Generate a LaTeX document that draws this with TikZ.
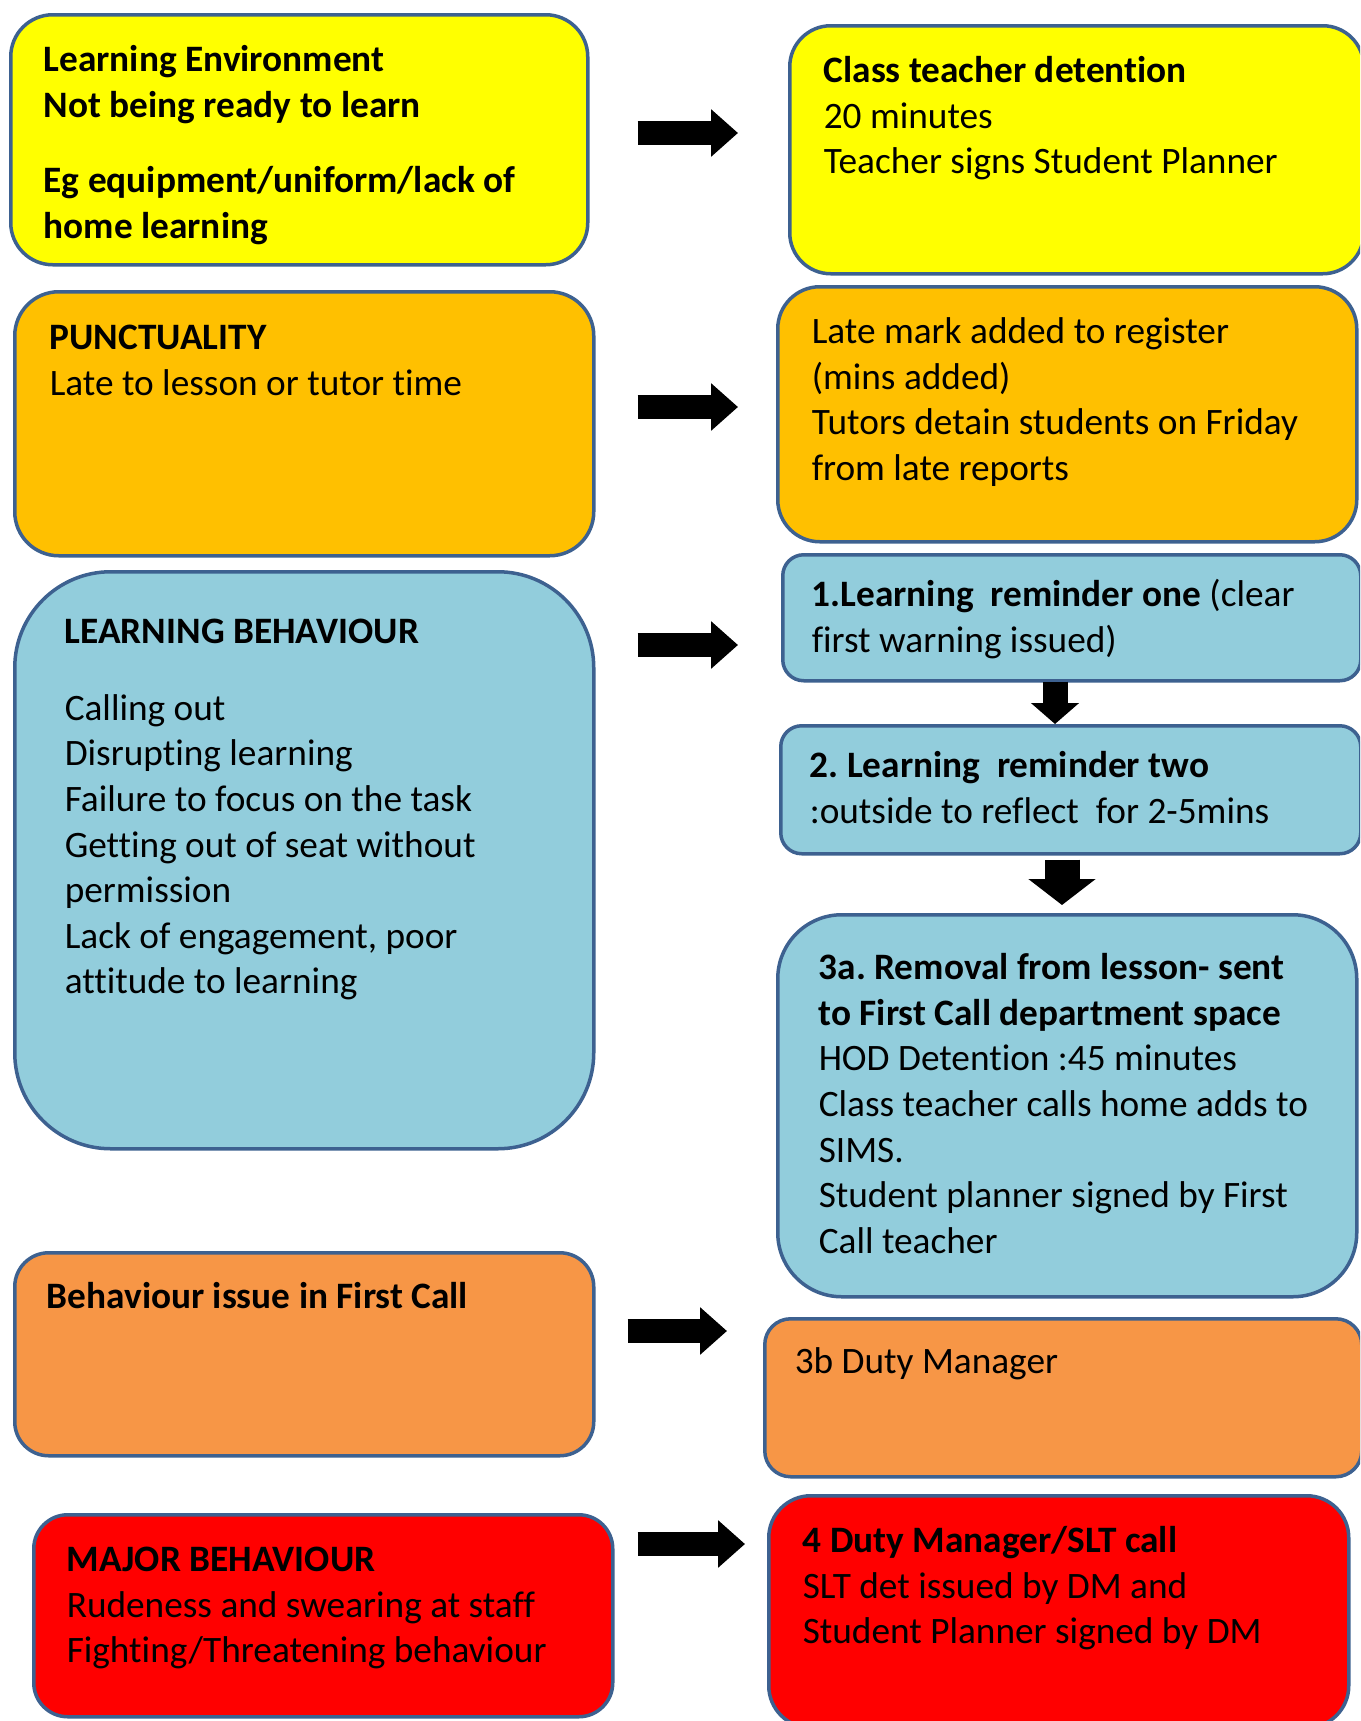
\documentclass[tikz,border=0pt]{standalone}
\usepackage{fontspec}
\setmainfont{Carlito}[Ligatures=NoCommon]
\usetikzlibrary{arrows.meta}
\definecolor{bordc}{HTML}{3D6190}
\definecolor{yel}{HTML}{FFFF00}
\definecolor{gold}{HTML}{FFC000}
\definecolor{lblue}{HTML}{92CDDC}
\definecolor{orng}{HTML}{F79646}
\definecolor{rd}{HTML}{FF0000}
\newcommand\bxt[3]{\parbox[c][#1pt][t]{#2pt}{\frenchspacing\raggedright\strut #3}}
\begin{document}
\begin{tikzpicture}[x=1pt,y=-1pt,
  rb/.style n args={5}{draw=bordc, line width=3.5pt, anchor=north west,
    minimum width=#1pt, minimum height=#2pt, rounded corners=#3pt,
    inner xsep=#4pt, inner ysep=#5pt},
  harrow/.style={line width=24pt, -{Triangle[width=46pt,length=27pt]}},
  varrowa/.style={line width=25pt, -{Triangle[width=47pt,length=21pt]}},
  varrowb/.style={line width=35pt, -{Triangle[width=66pt,length=26pt]}},
  every node/.style={font=\fontsize{37.3pt}{45.6pt}\selectfont, text=black}]
\useasboundingbox (0,0) rectangle (1360,1721);
\fill[white] (0,0) rectangle (1360,1721);
\clip (0,0) rectangle (1360,1721);
\hfuzz=300pt
% Boxes
\node[rb={577}{250}{42}{33}{25}, fill=yel] (A) at (9,13)
  {\bxt{200}{511}{\bfseries Learning Environment\\Not being ready to learn\\[30pt]Eg equipment/uniform/lack of\\home learning}};
\node[rb={574}{248}{41}{34}{25}, fill=yel] (B) at (788,24)
  {\bxt{198}{506}{\textbf{Class teacher detention}\\20 minutes\\Teacher signs Student Planner}};
\node[rb={579}{264}{44}{35}{26}, fill=gold] (C) at (13,290)
  {\bxt{212}{509}{\textbf{PUNCTUALITY}\\Late to lesson or tutor time}};
\node[rb={579}{255}{42}{34}{25}, fill=gold] (D) at (776,285)
  {\bxt{205}{511}{Late mark added to register\\(mins added)\\Tutors detain students on Friday\\from late reports}};
\node[rb={579}{577}{96}{50}{40}, fill=lblue] (E) at (13,570)
  {\bxt{497}{479}{\textbf{LEARNING BEHAVIOUR}\\[31pt]Calling out\\Disrupting learning\\Failure to focus on the task\\Getting out of seat without\\permission\\Lack of engagement, poor\\attitude to learning}};
\node[rb={578}{126}{21}{29}{20}, fill=lblue] (F) at (781,553)
  {\bxt{86}{520}{\textbf{1.Learning\ \ reminder one} (clear\\first warning issued)}};
\node[rb={580}{128}{21}{29}{20}, fill=lblue] (G) at (779,724)
  {\bxt{88}{522}{\textbf{2. Learning\ \ reminder two}\\:outside to reflect\ \ for 2-5mins}};
\node[rb={579}{382}{64}{41}{33}, fill=lblue] (H) at (776,913)
  {\bxt{316}{497}{\textbf{3a. Removal from lesson- sent}\\\textbf{to First Call department space}\\HOD Detention :45 minutes\\Class teacher calls home adds to\\SIMS.\\Student planner signed by First\\Call teacher}};
\node[rb={579}{203}{34}{32}{24}, fill=orng] (I) at (13,1251)
  {\bxt{155}{515}{\textbf{Behaviour issue in First Call}}};
\node[rb={597}{158}{26}{30}{23}, fill=orng] (J) at (763,1317)
  {\bxt{112}{537}{3b Duty Manager}};
\node[rb={579}{202}{34}{33}{25}, fill=rd] (K) at (32,1513)
  {\bxt{152}{513}{\textbf{MAJOR BEHAVIOUR}\\Rudeness and swearing at staff\\Fighting/Threatening behaviour}};
\node[rb={580}{232}{42}{34}{25}, fill=rd] (L) at (767,1494)
  {\bxt{182}{512}{\textbf{4 Duty Manager/SLT call}\\SLT det issued by DM and\\Student Planner signed by DM}};
% reference coordinates for arrow rows/columns
\coordinate (r1) at (0,133);
\coordinate (r2) at (0,407);
\coordinate (r3) at (0,645);
\coordinate (r4) at (0,1331);
\coordinate (r5) at (0,1544);
\coordinate (c1) at (1055,0);
\coordinate (c2) at (1062,0);
% arrows
\draw[harrow, shorten <=48pt, shorten >=50pt] (A.east |- r1) -- (B.west |- r1);
\draw[harrow, shorten <=42pt, shorten >=38pt] (C.east |- r2) -- (D.west |- r2);
\draw[harrow, shorten <=42pt, shorten >=43pt] (E.east |- r3) -- (F.west |- r3);
\draw[harrow, shorten <=32pt, shorten >=36pt] (I.east |- r4) -- (J.west |- r4);
\draw[harrow, shorten <=23pt, shorten >=22pt] (K.east |- r5) -- (L.west |- r5);
\draw[varrowa, shorten <=-1pt, shorten >=0pt] (F.south -| c1) -- (G.north -| c1);
\draw[varrowb, shorten <=4pt, shorten >=8pt] (G.south -| c2) -- (H.north -| c2);
\end{tikzpicture}
\end{document}
